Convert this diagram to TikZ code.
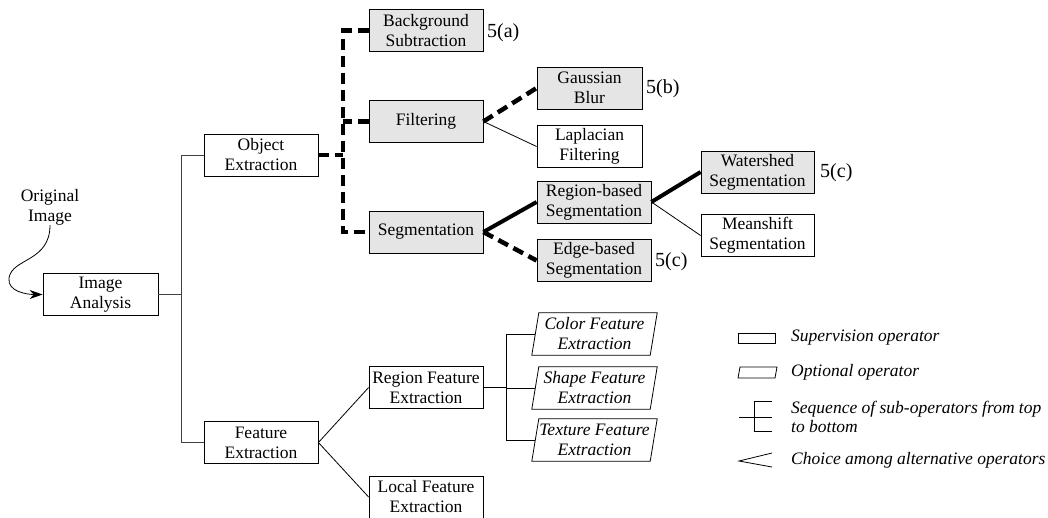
\documentclass[tikz,border=0pt]{standalone}
\usepackage{fontspec}
\setmainfont{Liberation Serif}
\usetikzlibrary{arrows.meta}
\begin{document}
\begin{tikzpicture}[x=1pt,y=-1pt,
  every node/.style={font=\fontsize{17.5}{20}\selectfont, inner sep=0pt},
  opbox/.style={draw, line width=0.8pt, fill=white, align=center, minimum height=42pt},
  graybox/.style={opbox, fill=black!10},
  optbox/.style={align=center, minimum height=42pt, minimum width=118pt, font=\fontsize{17.5}{20}\selectfont\itshape},
  thin line/.style={line width=0.8pt},
  thick line/.style={line width=4pt},
  thick dash/.style={line width=4.5pt, dash pattern=on 11pt off 6pt},
  lbl/.style={anchor=west, font=\fontsize{20}{22}\selectfont},
  legtext/.style={anchor=west, align=left, font=\fontsize{17.5}{19}\selectfont\itshape}
]
\useasboundingbox (0,0) rectangle (1048,517);

% nodes
\node[opbox, minimum width=115pt] (IA) at (100.5,294.5) {Image\\Analysis};
\node[opbox, minimum width=114pt] (OE) at (261,155) {Object\\Extraction};
\node[opbox, minimum width=114pt] (FE) at (261,442.5) {Feature\\Extraction};
\node[graybox, minimum width=114pt] (BS) at (426,30.5) {Background\\Subtraction};
\node[graybox, minimum width=114pt] (FI) at (426,121.5) {Filtering};
\node[graybox, minimum width=114pt] (SE) at (426,232) {Segmentation};
\node[graybox, minimum width=105pt] (GB) at (589.5,88) {Gaussian\\Blur};
\node[opbox, minimum width=105pt] (LF) at (589.5,146.5) {Laplacian\\Filtering};
\node[graybox, minimum width=114pt] (RS) at (594,202) {Region-based\\Segmentation};
\node[graybox, minimum width=114pt] (ES) at (594,260.5) {Edge-based\\Segmentation};
\node[graybox, minimum width=113pt] (WS) at (757.5,172) {Watershed\\Segmentation};
\node[opbox, minimum width=113pt] (MS) at (757.5,235.5) {Meanshift\\Segmentation};
\node[opbox, minimum width=114pt] (RF) at (426,387.5) {Region Feature\\Extraction};
\node[opbox, minimum width=114pt] (LoF) at (426,497) {Local Feature\\Extraction};
\node[optbox] (CF) at (594.5,334) {Color Feature\\Extraction};
\node[optbox] (SF) at (594.5,388) {Shape Feature\\Extraction};
\node[optbox] (TF) at (594.5,440) {Texture Feature\\Extraction};
\foreach \n in {CF,SF,TF}{
  \draw[thin line] ([xshift=3.5pt]\n.north west) -- ([xshift=3.5pt]\n.north east)
    -- ([xshift=-3.5pt]\n.south east) -- ([xshift=-3.5pt]\n.south west) -- cycle;
}
\node[align=center] (orig) at (50,207) {Original\\Image};

% labels
\node[lbl] (la) at (487,33) {5(a)};
\node[lbl] (lb) at (646,89) {5(b)};
\node[lbl] (lc) at (655,262) {5(c)};
\node[lbl] (ld) at (820,173) {5(c)};

% junction coordinates
\coordinate (j) at (181,0);
\coordinate (d) at (343,0);
\coordinate (r) at (506,0);

% connectors
\draw[-{Stealth[length=13pt,width=9pt]}, line width=0.8pt] (orig.south)
  .. controls (50,262) and (12,258) .. (9,278)
  .. controls (7,292) and (28,294.5) .. (IA.west);
\draw[line width=1pt, black!75] (IA.east) -- (IA.east -| j);
\draw[line width=1pt, black!75] (OE.west) -| (j |- FE.west) -- (FE.west);

\draw[thick dash] (OE.east) -- (OE.east -| d);
\draw[thick dash] (BS.west) -| (d |- SE.west) -- (SE.west);
\draw[thick dash] (FI.west) -- (FI.west -| d);

\draw[thick dash] (FI.east) -- (GB.west);
\draw[thin line] (FI.east) -- (LF.west);
\draw[thick line] (SE.east) -- (RS.west);
\draw[thick dash] (SE.east) -- (ES.west);
\draw[thick line] (RS.east) -- (WS.west);
\draw[thin line] (RS.east) -- (MS.west);

\draw[thin line] (FE.east) -- (RF.west);
\draw[thin line] (FE.east) -- (LoF.west);
\draw[thin line] (RF.east) -- (RF.east -| r);
\draw[thin line] (CF.west) -| (r |- TF.west) -- (TF.west);
\draw[thin line] (SF.west) -- (SF.west -| r);

% legend
\draw[thin line] (738,333) rectangle (775,343);
\draw[thin line] (740,367) -- (777,367) -- (775,378) -- (738,378) -- cycle;
\draw[thin line] (772,401) -- (754,401) -- (754,431) -- (772,431);
\draw[thin line] (739,417) -- (772,417);
\draw[thin line] (772,453) -- (739,461) -- (772,467);
\node[legtext] (t1) at (791,338) {Supervision operator};
\node[legtext] (t2) at (791,372) {Optional operator};
\node[legtext] (t3) at (791,416.5) {Sequence of sub-operators from top\\to bottom};
\node[legtext] (t4) at (791,460) {Choice among alternative operators};
\end{tikzpicture}
\end{document}
